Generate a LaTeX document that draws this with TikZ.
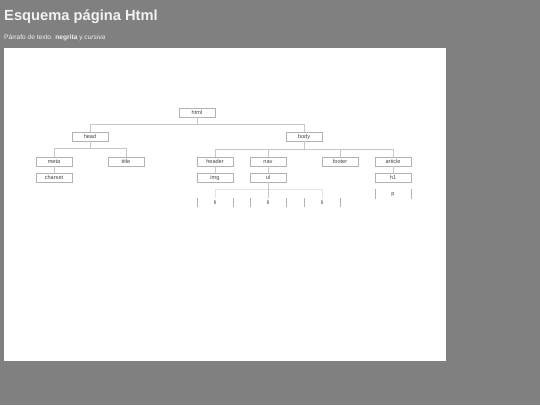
\documentclass[tikz,border=0pt]{standalone}
\usepackage{fontspec}
\setmainfont{Liberation Sans}
\begin{document}
\begin{tikzpicture}[x=1pt,y=-1pt,
  lbl/.style={text=black!72, font=\fontsize{5.6}{6}\selectfont, text height=3.6pt, text depth=0pt},
  box/.style={lbl, draw=black!30, line width=0.6pt, fill=white, minimum width=36pt, minimum height=9pt, inner sep=0pt},
  sidebox/.style={lbl, draw=none, minimum width=36pt, minimum height=9pt, inner sep=0pt},
  conn/.style={draw=black!22, line width=0.6pt},
  side/.style={draw=black!30, line width=0.6pt}]
\useasboundingbox (0,0) rectangle (540,405);
\fill[black!50] (0,0) rectangle (540,405);
\fill[white] (4,48) rectangle (446,361);
\node[anchor=west, inner sep=0pt, text=black!5, font=\fontsize{14.7}{16}\selectfont\bfseries] (title) at (4,16.5) {Esquema página Html};
\node[anchor=west, inner sep=0pt, text=black!6, font=\fontsize{6.6}{8}\selectfont] (sub) at (4,37.5) {Párrafo de texto. \textbf{negrita} y \textit{cursiva}};
% nodes
\node[box] (html) at (197,112.5) {html};
\node[box] (head) at (90,136.5) {head};
\node[box] (body) at (304,136.5) {body};
\node[box] (meta) at (54,161.5) {meta};
\node[box] (titl) at (126,161.5) {title};
\node[box] (charset) at (54,177.5) {charset};
\node[box] (header) at (215,161.5) {header};
\node[box] (nav) at (268,161.5) {nav};
\node[box] (footer) at (340,161.5) {footer};
\node[box] (article) at (393,161.5) {article};
\node[box] (img) at (215,177.5) {img};
\node[box] (ul) at (268,177.5) {ul};
\node[box] (h1) at (393,177.5) {h1};
\node[sidebox] (p) at (393,194) {p};
\node[sidebox] (li1) at (215,202.5) {li};
\node[sidebox] (li2) at (268,202.5) {li};
\node[sidebox] (li3) at (322,202.5) {li};
\foreach \n in {p,li1,li2,li3}{
  \draw[side] (\n.north west) -- (\n.south west);
  \draw[side] (\n.north east) -- (\n.south east);
}
% connectors
\draw[conn] (html.south) -- ++(0,7) -| (head.north);
\draw[conn] (html.south) -- ++(0,7) -| (body.north);
\draw[conn] (head.south) -- ++(0,7) -| (meta.north);
\draw[conn] (head.south) -- ++(0,7) -| (titl.north);
\draw[conn] (meta.south) -- (charset.north);
\draw[conn] (body.south) -- ++(0,7.5) -| (header.north);
\draw[conn] (body.south) -- ++(0,7.5) -| (nav.north);
\draw[conn] (body.south) -- ++(0,7.5) -| (footer.north);
\draw[conn] (body.south) -- ++(0,7.5) -| (article.north);
\draw[conn] (header.south) -- (img.north);
\draw[conn] (nav.south) -- (ul.north);
\draw[conn] (article.south) -- (h1.north);
\draw[draw=black!10, line width=0.6pt] (ul.south) -- ++(0,7) -| (li1.north);
\draw[draw=black!10, line width=0.6pt] (ul.south) -- ++(0,7) -| (li3.north);
\draw[conn] (ul.south) -- (li2.north);
\end{tikzpicture}
\end{document}
